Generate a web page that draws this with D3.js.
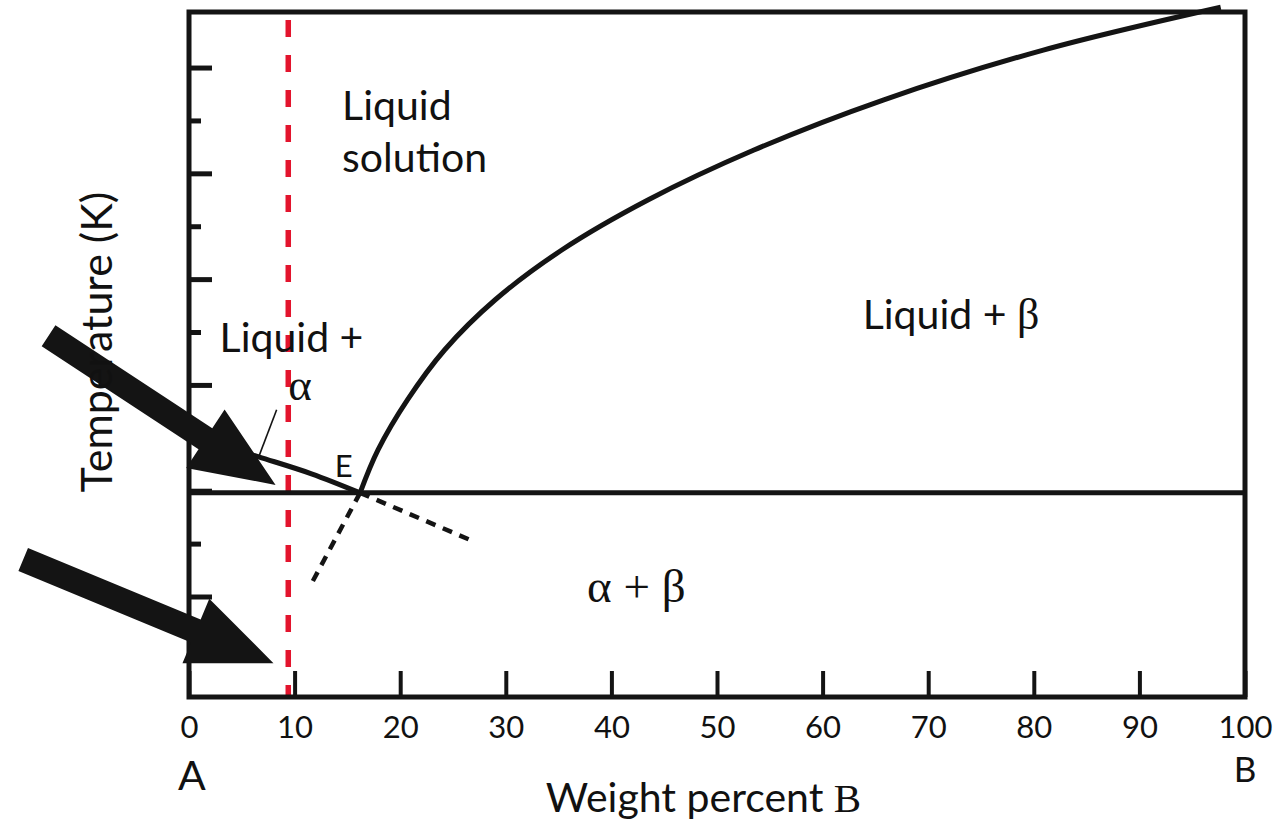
<!DOCTYPE html>
<html>
<head>
<meta charset="utf-8">
<script src="https://cdn.jsdelivr.net/npm/d3@7"></script>
<style>
  html, body { margin: 0; padding: 0; background: #fff; }
  svg { display: block; }
  text { font-family: "Lato", "Open Sans", sans-serif; fill: #111; }
</style>
</head>
<body>
<svg id="chart" width="1284" height="824"></svg>
<script>
// ---------- data (weight percent B, temperature in arbitrary tick units) ----------
const xTickValues = [0, 10, 20, 30, 40, 50, 60, 70, 80, 90, 100];
const xTickLabels = ["0", "10", "20", "30", "40", "50", "60", "70", "80", "90", "100"];
const yMajorTicks = [2, 4, 6, 8, 10, 12];
const yMinorTicks = [1, 3, 5, 7, 9, 11];

const eutecticT = 3.96;
const eutecticX = 16.2;

// liquidus of beta (from E up to the right)
const betaLiqX = [16.2, 17.9, 20.7, 24.2, 29.0, 35.3, 43.5, 53.5, 65.8, 80.9, 97.7];
const betaLiqT = [3.96, 4.77, 5.72, 6.66, 7.61, 8.55, 9.50, 10.44, 11.39, 12.33, 13.14];

// liquidus of alpha (from pure A down to E)
const alphaLiqX = [0, 6.6, 11.6, 16.2];
const alphaLiqT = [5.05, 4.64, 4.32, 3.96];

// metastable extensions (dashed)
const extAX = [16.2, 11.4];
const extAT = [3.96, 2.17];
const extBX = [16.2, 26.5];
const extBT = [3.96, 3.08];

// red composition line
const compositionX = 9.4;
const compositionTop = 12.9;

// alpha leader line
const leaderX = [8.3, 6.6];
const leaderT = [5.53, 4.64];

// big arrows: tail and tip
const arrowTailX = [-13.3, -15.7];
const arrowTailT = [6.93, 2.70];
const arrowTipX = [8.2, 8.0];
const arrowTipT = [4.11, 0.74];

// labels
const labelText = ["Liquid", "solution", "Liquid + ", "Liquid +", "α", "E", "α + β"];

// ---------- scales ----------
const svg = d3.select("#chart");
const x = d3.scaleLinear().domain([0, 100]).range([189, 1245]);
const y = d3.scaleLinear().domain([0.1, 13.05]).range([697, 12]);

const black = "#141414";
const lw = 5;

// ---------- axes (ticks inward) ----------
const xAxis = d3.axisBottom(x).tickValues(xTickValues)
  .tickFormat((d, i) => xTickLabels[i]).tickSize(-26).tickPadding(19);
const gx = svg.append("g").attr("transform", `translate(0,${y(0.1)})`).call(xAxis);
gx.select(".domain").remove();
gx.selectAll(".tick line").attr("stroke", black).attr("stroke-width", 4);
gx.selectAll(".tick text").style("font-size", "31px").attr("fill", black)
  .style("font-family", "Lato, sans-serif");

const gyMaj = svg.append("g").attr("transform", `translate(${x(0)},0)`)
  .call(d3.axisLeft(y).tickValues(yMajorTicks).tickFormat("").tickSize(-23));
const gyMin = svg.append("g").attr("transform", `translate(${x(0)},0)`)
  .call(d3.axisLeft(y).tickValues(yMinorTicks).tickFormat("").tickSize(-12));
[gyMaj, gyMin].forEach(g => {
  g.select(".domain").remove();
  g.selectAll(".tick line").attr("stroke", black).attr("stroke-width", 5);
});

// ---------- red composition line ----------
svg.append("line")
  .attr("x1", x(compositionX)).attr("x2", x(compositionX))
  .attr("y1", y(compositionTop)).attr("y2", y(0.1))
  .attr("stroke", "#e3142d").attr("stroke-width", 5.5)
  .attr("stroke-dasharray", "17 18");

// ---------- phase boundaries ----------
const line = d3.line().x(d => x(d[0])).y(d => y(d[1]));
const smooth = d3.line().x(d => x(d[0])).y(d => y(d[1])).curve(d3.curveCatmullRom.alpha(0.5));

svg.append("path")
  .datum(betaLiqX.map((v, i) => [v, betaLiqT[i]]))
  .attr("d", smooth).attr("fill", "none").attr("stroke", black).attr("stroke-width", lw);

svg.append("path")
  .datum(alphaLiqX.map((v, i) => [v, alphaLiqT[i]]))
  .attr("d", smooth)
  .attr("fill", "none").attr("stroke", black).attr("stroke-width", lw);

// eutectic line
svg.append("line")
  .attr("x1", x(0)).attr("x2", x(100))
  .attr("y1", y(eutecticT)).attr("y2", y(eutecticT))
  .attr("stroke", black).attr("stroke-width", lw);

// dashed extensions
[[extAX, extAT], [extBX, extBT]].forEach(([xs, ts]) => {
  svg.append("path")
    .datum(xs.map((v, i) => [v, ts[i]]))
    .attr("d", line).attr("fill", "none").attr("stroke", black)
    .attr("stroke-width", 4.5).attr("stroke-dasharray", "10 8");
});

// frame
svg.append("rect")
  .attr("x", x(0)).attr("y", y(13.05))
  .attr("width", x(100) - x(0)).attr("height", y(0.1) - y(13.05))
  .attr("fill", "none").attr("stroke", black).attr("stroke-width", lw);

// alpha leader
svg.append("line")
  .attr("x1", x(leaderX[0])).attr("y1", y(leaderT[0]))
  .attr("x2", x(leaderX[1])).attr("y2", y(leaderT[1]))
  .attr("stroke", black).attr("stroke-width", 1.6);

// ---------- big block arrows ----------
function blockArrow(x0, y0, x1, y1) {
  const dx = x1 - x0, dy = y1 - y0, L = Math.hypot(dx, dy);
  const ux = dx / L, uy = dy / L, px = -uy, py = ux;
  const sw = 12.5, hw = 35, hl = 84;
  const bx = x1 - ux * hl, by = y1 - uy * hl;
  const pts = [
    [x0 + px * sw, y0 + py * sw],
    [bx + px * sw, by + py * sw],
    [bx + px * hw, by + py * hw],
    [x1, y1],
    [bx - px * hw, by - py * hw],
    [bx - px * sw, by - py * sw],
    [x0 - px * sw, y0 - py * sw]
  ];
  return "M" + pts.map(p => p.join(",")).join("L") + "Z";
}
arrowTailX.forEach((tx, i) => {
  svg.append("path")
    .attr("d", blockArrow(x(tx), y(arrowTailT[i]), x(arrowTipX[i]), y(arrowTipT[i])))
    .attr("fill", black);
});

// ---------- text labels ----------
const serif = "'Liberation Serif', 'DejaVu Serif', serif";
function label(xv, tv, size) {
  return svg.append("text").attr("x", x(xv)).attr("y", y(tv)).style("font-size", size + "px");
}
label(14.5, 11.0, 41).text(labelText[0]);
label(14.5, 10.02, 41).text(labelText[1]);
const lb = label(63.8, 7.05, 41);
lb.append("tspan").text(labelText[2]);
lb.append("tspan").style("font-family", serif).style("font-size", "44px").text("β");
label(2.9, 6.62, 41).text(labelText[3]);
label(9.4, 5.72, 45).style("font-family", serif).text(labelText[4]);
label(13.8, 4.25, 31).text(labelText[5]);
label(37.7, 1.9, 47).style("font-family", serif).text(labelText[6]);

// axis end letters and titles
svg.append("text").attr("x", x(0) + 3).attr("y", 790).attr("text-anchor", "middle")
  .style("font-size", "41px").text("A");
svg.append("text").attr("x", x(100)).attr("y", 782).attr("text-anchor", "middle")
  .style("font-size", "35px").text("B");

const xt = svg.append("text").attr("x", (545 + 862) / 2).attr("y", 812).attr("text-anchor", "middle")
  .style("font-size", "41px");
xt.append("tspan").text("Weight percent ");
xt.append("tspan").style("font-family", serif).text("B");

svg.append("text")
  .attr("transform", `translate(112, ${y(6.81)}) rotate(-90)`)
  .attr("text-anchor", "middle").style("font-size", "43px").text("Temperature (K)");
</script>
</body>
</html>
